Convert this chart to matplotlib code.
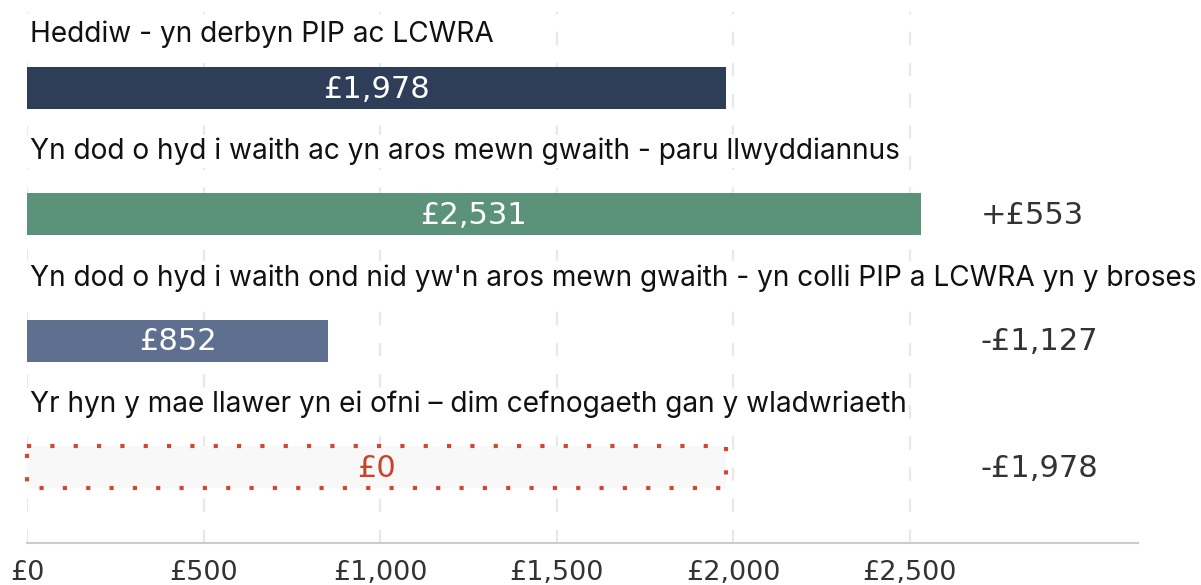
import matplotlib
matplotlib.use("Agg")
import matplotlib.pyplot as plt
from matplotlib.patches import Rectangle

categories = [
    "Heddiw - yn derbyn PIP ac LCWRA",
    "Yn dod o hyd i waith ac yn aros mewn gwaith - paru llwyddiannus",
    "Yn dod o hyd i waith ond nid yw'n aros mewn gwaith - yn colli PIP a LCWRA yn y broses",
    "Yr hyn y mae llawer yn ei ofni \u2013 dim cefnogaeth gan y wladwriaeth",
]
values = [1978, 2531, 852, 0]
bar_labels = ["\u00a31,978", "\u00a32,531", "\u00a3852", "\u00a30"]
differences = ["", "+\u00a3553", "-\u00a31,127", "-\u00a31,978"]
xticks = [0, 500, 1000, 1500, 2000, 2500]
xticklabels = ["\u00a30", "\u00a3500", "\u00a31,000", "\u00a31,500", "\u00a32,000", "\u00a32,500"]
baseline_value = values[0]

colors = ["#2e3d58", "#5a937a", "#5f6f8f", "#f8f8f8"]

plt.rcParams['font.family'] = ['Inter', 'DejaVu Sans']
numfont = ['DejaVu Sans']

fig = plt.figure(figsize=(12.01, 5.85), dpi=100)
W, H = 1201, 585
ax = fig.add_axes([27 / W, (H - 543) / H, (1138 - 27) / W, (543 - 12) / H])

ax.set_xlim(0, 3146)
ax.set_ylim(3.6, -0.6)
bh = 0.335

for i, v in enumerate(values):
    if i < 3:
        ax.barh(i, v, height=bh, color=colors[i], zorder=2)
        ax.text(v / 2, i + 0.01, bar_labels[i], ha='center', va='center',
                color='white', fontsize=22, family=numfont, zorder=4)
    else:
        # placeholder bar sized at today's value, dotted outline
        ax.barh(i, baseline_value, height=bh, color=colors[i], zorder=2)
        rect = Rectangle((0, i - bh / 2), baseline_value, bh, fill=False,
                         edgecolor='#d0482e', linewidth=3,
                         linestyle=(0, (1, 4.6)), zorder=3, clip_on=False)
        ax.add_patch(rect)
        ax.text(baseline_value / 2, i + 0.01, bar_labels[i], ha='center', va='center',
                color='#c9432b', fontsize=22, family=numfont, zorder=4)
    if differences[i]:
        ax.text(2700, i + 0.01, differences[i], ha='left', va='center',
                color='#333333', fontsize=22, family=numfont, zorder=4)
    off = 0.365 if i == 0 else 0.435
    ax.text(8, i - off, categories[i], ha='left', va='baseline',
            color='#111111', fontsize=20.2, zorder=5,
            bbox=dict(facecolor='white', edgecolor='none', pad=2))

ax.set_xticks(xticks)
ax.set_xticklabels(xticklabels, fontsize=19.5, color='#333333', family=numfont)
ax.set_yticks([])
ax.tick_params(axis='x', length=0, pad=12)
ax.grid(axis='x', color='#e8e8e8', linewidth=1.6, linestyle=(0, (6, 8)), zorder=1)
ax.set_axisbelow(True)
for s in ['top', 'right', 'left']:
    ax.spines[s].set_visible(False)
ax.spines['bottom'].set_color('#cccccc')
ax.spines['bottom'].set_linewidth(1.5)

fig.savefig("out.png", dpi=100)
